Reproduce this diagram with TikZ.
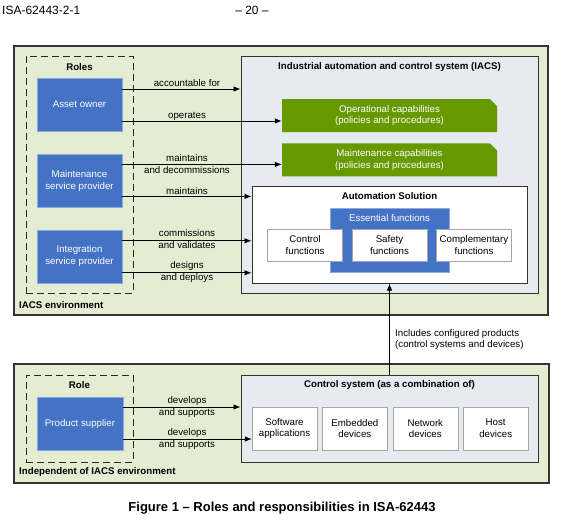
\documentclass[tikz,border=0pt]{standalone}
\usepackage{fontspec}
\setmainfont{Liberation Sans}
\usepackage{xcolor}
\usepackage{tikz}
\usetikzlibrary{arrows.meta,shapes.misc,positioning}
\definecolor{envgreen}{RGB}{228,236,210}
\definecolor{sysgrey}{RGB}{231,234,238}
\definecolor{roleblue}{RGB}{68,114,196}
\definecolor{capgreen}{RGB}{102,153,0}
\definecolor{framegrey}{RGB}{51,51,51}
\newcommand\figfont{\fontsize{9.7}{11.7}\selectfont}
\tikzset{
  env panel/.style={
    rectangle,
    draw=framegrey,
    line width=1.2pt,
    fill=envgreen,
    inner sep=0pt,
  },
  role frame/.style={
    rectangle,
    draw=black!85,
    dash pattern=on 7pt off 4pt,
    line width=1pt,
    inner sep=0pt,
  },
  role box/.style={
    rectangle,
    minimum width=85pt,
    minimum height=53pt,
    fill=roleblue,
    draw=roleblue!60!white,
    text=white,
    align=center,
    font=\figfont,
  },
  sys box/.style={
    rectangle,
    draw=framegrey,
    line width=1pt,
    fill=sysgrey,
    inner sep=0pt,
  },
  cap box/.style={
    chamfered rectangle,
    chamfered rectangle corners=north east,
    chamfered rectangle sep=3.5pt,
    minimum width=215pt,
    minimum height=33pt,
    fill=capgreen,
    text=white,
    align=center,
    inner sep=0pt,
    font=\figfont,
  },
  func box/.style={
    rectangle,
    minimum width=75pt,
    minimum height=32pt,
    draw=black!35,
    fill=white,
    align=center,
    font=\figfont,
  },
  part box/.style={
    rectangle,
    minimum width=65pt,
    minimum height=43pt,
    draw=black!35,
    fill=white,
    align=center,
    font=\figfont,
  },
  box title/.style={font=\figfont\bfseries, inner sep=0pt},
  resp label/.style={font=\figfont, align=center, inner sep=0pt},
  resp arrow/.style={-{Latex[length=7pt,width=5.5pt]}, line width=0.8pt},
}

\begin{document}
\begin{tikzpicture}[x=1pt, y=-1pt, font=\figfont]
  \useasboundingbox (0,0) rectangle (566,528);

  % page header
  \node[anchor=west, inner sep=0pt, font=\fontsize{12}{14}\selectfont] (docid) at (2,10) {ISA-62443-2-1};
  \node[inner sep=0pt, font=\fontsize{12}{14}\selectfont] (pageno) at (252,10) {– 20 –};

  % IACS environment
  \node[env panel, minimum width=534pt, minimum height=269pt] (env) at (281,180.5) {};
  \node[role frame, minimum width=107pt, minimum height=237pt] (roles) at (79.5,174.5) {};
  \node[box title] (roleshead) at (79.5,67) {Roles};
  \node[role box] (owner) at (79.5,104.5) {Asset owner};
  \node[role box, below=23pt of owner] (maint) {Maintenance\\service provider};
  \node[role box, below=22pt of maint] (integ) {Integration\\service provider};
  \node[box title, anchor=west] (envhead) at (19,305) {IACS environment};

  \node[sys box, minimum width=297pt, minimum height=237pt] (iacs) at (389.5,174.5) {};
  \node[box title] (iacshead) at (389.5,67) {Industrial automation and control system (IACS)};
  \node[cap box] (opcap) at (389.5,115.5) {Operational capabilities\\(policies and procedures)};
  \node[cap box, below=11pt of opcap] (mcap) {Maintenance capabilities\\(policies and procedures)};

  \node[rectangle, draw=framegrey, line width=1pt, fill=white, minimum width=275pt, minimum height=97pt] (sol) at (389.5,234.5) {};
  \node[box title] (solhead) at (389.5,196) {Automation Solution};
  \node[rectangle, fill=roleblue, draw=roleblue!60!white, minimum width=119pt, minimum height=64pt] (ess) at (389.5,240) {};
  \node[inner sep=0pt, text=white] (esshead) at (389.5,218) {Essential functions};
  \node[func box] (safety) at (389.5,245) {Safety\\functions};
  \node[func box, left=9pt of safety] (control) {Control\\functions};
  \node[func box, right=9pt of safety] (compl) {Complementary\\functions};

  % responsibilities of the roles
  \draw[resp arrow] ([yshift=15.5pt]owner.east) coordinate (a1) -- (a1 -| iacs.west);
  \draw[resp arrow] ([yshift=-16.5pt]owner.east) coordinate (a2) -- (a2 -| opcap.west);
  \draw[resp arrow] ([yshift=16.5pt]maint.east) coordinate (a3) -- (a3 -| mcap.west);
  \draw[resp arrow] ([yshift=-15.5pt]maint.east) coordinate (a4) -- (a4 -| sol.west);
  \draw[resp arrow] ([yshift=15.5pt]integ.east) coordinate (a5) -- (a5 -| sol.west);
  \draw[resp arrow] ([yshift=-16.5pt]integ.east) coordinate (a6) -- (a6 -| sol.west);
  \node[resp label] (l1) at (187,83) {accountable for};
  \node[resp label] (l2) at (187,116) {operates};
  \node[resp label] (l3) at (187,164) {maintains\\and decommissions};
  \node[resp label] (l4) at (187,191) {maintains};
  \node[resp label] (l5) at (187,239) {commissions\\and validates};
  \node[resp label] (l6) at (187,272) {designs\\and deploys};

  % independent of IACS environment
  \node[env panel, minimum width=535pt, minimum height=119pt] (indep) at (281.5,423.5) {};
  \node[role frame, minimum width=107pt, minimum height=87pt] (role) at (79.5,418.5) {};
  \node[box title] (rolehead) at (79.5,385) {Role};
  \node[role box, minimum width=86pt] (supplier) at (80,423.5) {Product supplier};
  \node[box title, anchor=west] (indephead) at (19,472) {Independent of IACS environment};

  \node[sys box, minimum width=297pt, minimum height=87pt] (cs) at (389.5,418.5) {};
  \node[box title] (cshead) at (389.5,385) {Control system (as a combination of)};
  \node[part box] (sw) at (284.5,428.5) {Software\\applications};
  \node[part box, right=5pt of sw] (emb) {Embedded\\devices};
  \node[part box, right=5pt of emb] (net) {Network\\devices};
  \node[part box, right=5pt of net] (host) {Host\\devices};

  \draw[resp arrow] ([yshift=16.5pt]supplier.east) coordinate (b1) -- (b1 -| cs.west);
  \draw[resp arrow] ([yshift=-15.5pt]supplier.east) coordinate (b2) -- (b2 -| sw.west);
  \node[resp label] (m1) at (187,407) {develops\\and supports};
  \node[resp label] (m2) at (187,439) {develops\\and supports};

  % configured products go into the solution
  \draw[resp arrow] (cs.north) -- (sol.south);
  \node[resp label, anchor=west, align=left] (incl) at (395,339.5) {Includes configured products\\(control systems and devices)};

  \node[inner sep=0pt, font=\fontsize{13}{15}\selectfont\bfseries] (caption) at (282,508) {Figure 1 – Roles and responsibilities in ISA-62443};
\end{tikzpicture}
\end{document}
